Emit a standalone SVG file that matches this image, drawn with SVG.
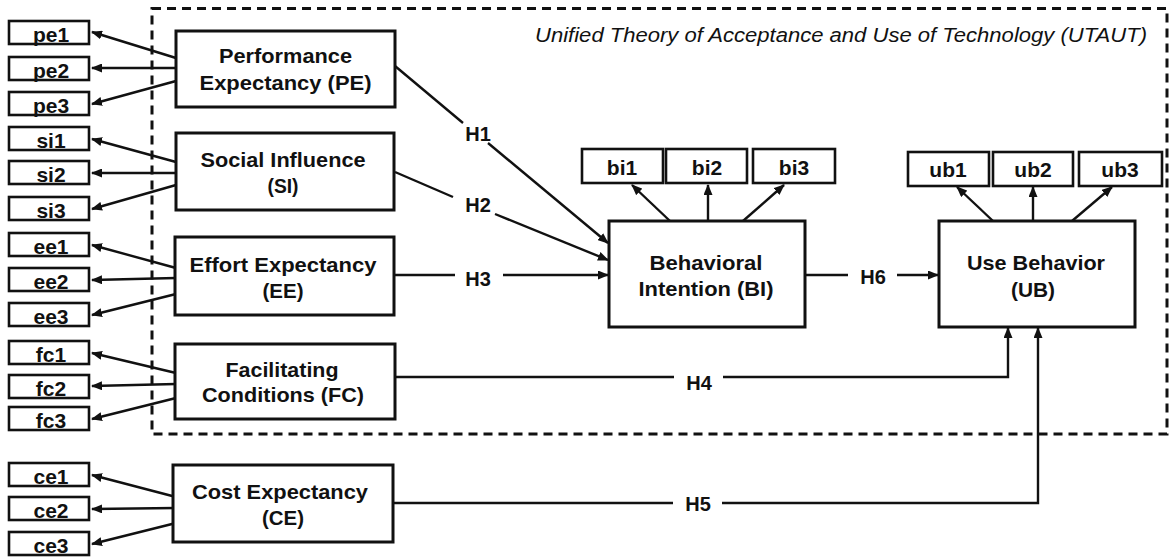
<svg xmlns="http://www.w3.org/2000/svg" width="1170" height="559" viewBox="0 0 1170 559">
<style>
.bg{fill:#fff}
.box{fill:#fff;stroke:#111;stroke-width:3}
.ind{fill:#fff;stroke:#111;stroke-width:2.6}
.con{fill:none;stroke:#111;stroke-width:2.4}
.arr{fill:none;stroke:#111;stroke-width:2.4;marker-end:url(#ah)}
.dash{fill:none;stroke:#111;stroke-width:3;stroke-dasharray:9 6}
text{font-family:"Liberation Sans",Arial,sans-serif;fill:#111}
.t{font-size:20.5px;font-weight:bold;text-anchor:middle}
.it{font-size:21px;font-weight:bold;text-anchor:middle}
.h{font-size:20px;font-weight:bold;text-anchor:middle}
.title{font-size:20px;font-style:italic}
</style>
<defs>
<marker id="ah" markerUnits="userSpaceOnUse" markerWidth="11" markerHeight="9" refX="10" refY="4.5" orient="auto">
<path d="M0,0 L11,4.5 L0,9 z" fill="#111"/>
</marker>
</defs>
<rect class="bg" x="0" y="0" width="1170" height="559"/>
<rect class="dash" x="152" y="8.5" width="1015" height="425.5"/>
<text class="title" x="535" y="42" textLength="612" lengthAdjust="spacingAndGlyphs">Unified Theory of Acceptance and Use of Technology (UTAUT)</text>

<g id="connectors">
<line class="arr" x1="176" y1="58" x2="92" y2="32"/>
<line class="arr" x1="176" y1="68" x2="92" y2="68"/>
<line class="arr" x1="176" y1="81" x2="92" y2="104"/>
<line class="arr" x1="176" y1="162" x2="92" y2="139"/>
<line class="arr" x1="176" y1="173" x2="92" y2="173"/>
<line class="arr" x1="176" y1="185" x2="92" y2="209"/>
<line class="arr" x1="176" y1="268" x2="92" y2="245"/>
<line class="arr" x1="176" y1="278" x2="92" y2="280"/>
<line class="arr" x1="176" y1="294" x2="92" y2="315"/>
<line class="arr" x1="176" y1="373" x2="92" y2="353"/>
<line class="arr" x1="176" y1="384" x2="92" y2="386"/>
<line class="arr" x1="176" y1="398" x2="92" y2="419"/>
<line class="arr" x1="176" y1="497" x2="92" y2="475"/>
<line class="arr" x1="176" y1="508" x2="92" y2="509"/>
<line class="arr" x1="176" y1="523" x2="92" y2="544"/>
<line class="arr" x1="670" y1="221" x2="632" y2="185"/>
<line class="arr" x1="708" y1="221" x2="708" y2="185"/>
<line class="arr" x1="743" y1="221" x2="784" y2="185"/>
<line class="arr" x1="993" y1="221" x2="957" y2="187"/>
<line class="arr" x1="1033" y1="221" x2="1033" y2="187"/>
<line class="arr" x1="1072" y1="221" x2="1112" y2="187"/>
<line class="con" x1="395" y1="66" x2="463" y2="123"/>
<line class="arr" x1="488" y1="143" x2="608" y2="243"/>
<line class="con" x1="395" y1="172" x2="453" y2="197"/>
<line class="arr" x1="495" y1="214" x2="608" y2="260"/>
<line class="con" x1="395" y1="275" x2="455" y2="275"/>
<line class="arr" x1="503" y1="275" x2="608" y2="275"/>
<line class="con" x1="805" y1="275" x2="848" y2="275"/>
<line class="arr" x1="897" y1="275" x2="938" y2="275"/>
<line class="con" x1="395" y1="377" x2="674" y2="377"/>
<polyline class="arr" points="723,377 1008,377 1008,328"/>
<line class="con" x1="393" y1="503" x2="673" y2="503"/>
<polyline class="arr" points="722,503 1038,503 1038,328"/>
<text class="h" x="478" y="141">H1</text>
<text class="h" x="478" y="212">H2</text>
<text class="h" x="478" y="286">H3</text>
<text class="h" x="873" y="284">H6</text>
<text class="h" x="699" y="390">H4</text>
<text class="h" x="698" y="511">H5</text>
</g>

<g id="pe1"><rect class="ind" x="9" y="21" width="80" height="23"/><text class="it" x="51" y="42">pe1</text></g>
<g id="pe2"><rect class="ind" x="9" y="57" width="80" height="23"/><text class="it" x="51" y="78">pe2</text></g>
<g id="pe3"><rect class="ind" x="9" y="92" width="80" height="23"/><text class="it" x="51" y="113">pe3</text></g>
<g id="si1"><rect class="ind" x="9" y="127" width="80" height="23"/><text class="it" x="51" y="148">si1</text></g>
<g id="si2"><rect class="ind" x="9" y="161" width="80" height="23"/><text class="it" x="51" y="182">si2</text></g>
<g id="si3"><rect class="ind" x="9" y="197" width="80" height="23"/><text class="it" x="51" y="218">si3</text></g>
<g id="ee1"><rect class="ind" x="9" y="233" width="80" height="23"/><text class="it" x="51" y="254">ee1</text></g>
<g id="ee2"><rect class="ind" x="9" y="268" width="80" height="23"/><text class="it" x="51" y="289">ee2</text></g>
<g id="ee3"><rect class="ind" x="9" y="303" width="80" height="23"/><text class="it" x="51" y="324">ee3</text></g>
<g id="fc1"><rect class="ind" x="9" y="341" width="80" height="23"/><text class="it" x="51" y="362">fc1</text></g>
<g id="fc2"><rect class="ind" x="9" y="375" width="80" height="23"/><text class="it" x="51" y="396">fc2</text></g>
<g id="fc3"><rect class="ind" x="9" y="407" width="80" height="23"/><text class="it" x="51" y="428">fc3</text></g>
<g id="ce1"><rect class="ind" x="9" y="463" width="80" height="23"/><text class="it" x="51" y="484">ce1</text></g>
<g id="ce2"><rect class="ind" x="9" y="497" width="80" height="23"/><text class="it" x="51" y="518">ce2</text></g>
<g id="ce3"><rect class="ind" x="9" y="532" width="80" height="23"/><text class="it" x="51" y="553">ce3</text></g>

<g id="bi1"><rect class="ind" x="582" y="149" width="81" height="34"/><text class="it" x="622" y="175">bi1</text></g>
<g id="bi2"><rect class="ind" x="666" y="149" width="81" height="34"/><text class="it" x="707" y="175">bi2</text></g>
<g id="bi3"><rect class="ind" x="753" y="149" width="82" height="34"/><text class="it" x="794" y="175">bi3</text></g>
<g id="ub1"><rect class="ind" x="908" y="152" width="81" height="34"/><text class="it" x="948" y="177">ub1</text></g>
<g id="ub2"><rect class="ind" x="993" y="152" width="80" height="34"/><text class="it" x="1033" y="177">ub2</text></g>
<g id="ub3"><rect class="ind" x="1079" y="152" width="83" height="34"/><text class="it" x="1120" y="177">ub3</text></g>

<g id="PE"><rect class="box" x="176" y="31" width="219" height="76"/>
<text class="t" x="285.5" y="63" textLength="133" lengthAdjust="spacingAndGlyphs">Performance</text>
<text class="t" x="285.5" y="90" textLength="172" lengthAdjust="spacingAndGlyphs">Expectancy (PE)</text></g>
<g id="SI"><rect class="box" x="176" y="133" width="218" height="77"/>
<text class="t" x="283" y="167" textLength="165" lengthAdjust="spacingAndGlyphs">Social Influence</text>
<text class="t" x="283" y="193" textLength="31" lengthAdjust="spacingAndGlyphs">(SI)</text></g>
<g id="EE"><rect class="box" x="175" y="237" width="219" height="78"/>
<text class="t" x="283" y="272" textLength="187" lengthAdjust="spacingAndGlyphs">Effort Expectancy</text>
<text class="t" x="283" y="298" textLength="41" lengthAdjust="spacingAndGlyphs">(EE)</text></g>
<g id="FC"><rect class="box" x="175" y="344" width="220" height="75"/>
<text class="t" x="282" y="377" textLength="113" lengthAdjust="spacingAndGlyphs">Facilitating</text>
<text class="t" x="283" y="402" textLength="162" lengthAdjust="spacingAndGlyphs">Conditions (FC)</text></g>
<g id="CE"><rect class="box" x="173" y="465" width="220" height="77"/>
<text class="t" x="280" y="499" textLength="176" lengthAdjust="spacingAndGlyphs">Cost Expectancy</text>
<text class="t" x="283" y="525" textLength="42" lengthAdjust="spacingAndGlyphs">(CE)</text></g>
<g id="BI"><rect class="box" x="609" y="221" width="196" height="106"/>
<text class="t" x="706" y="270" textLength="113" lengthAdjust="spacingAndGlyphs">Behavioral</text>
<text class="t" x="706" y="296" textLength="135" lengthAdjust="spacingAndGlyphs">Intention (BI)</text></g>
<g id="UB"><rect class="box" x="939" y="221" width="196" height="106"/>
<text class="t" x="1036" y="270" textLength="138" lengthAdjust="spacingAndGlyphs">Use Behavior</text>
<text class="t" x="1033" y="297" textLength="44" lengthAdjust="spacingAndGlyphs">(UB)</text></g>
</svg>
